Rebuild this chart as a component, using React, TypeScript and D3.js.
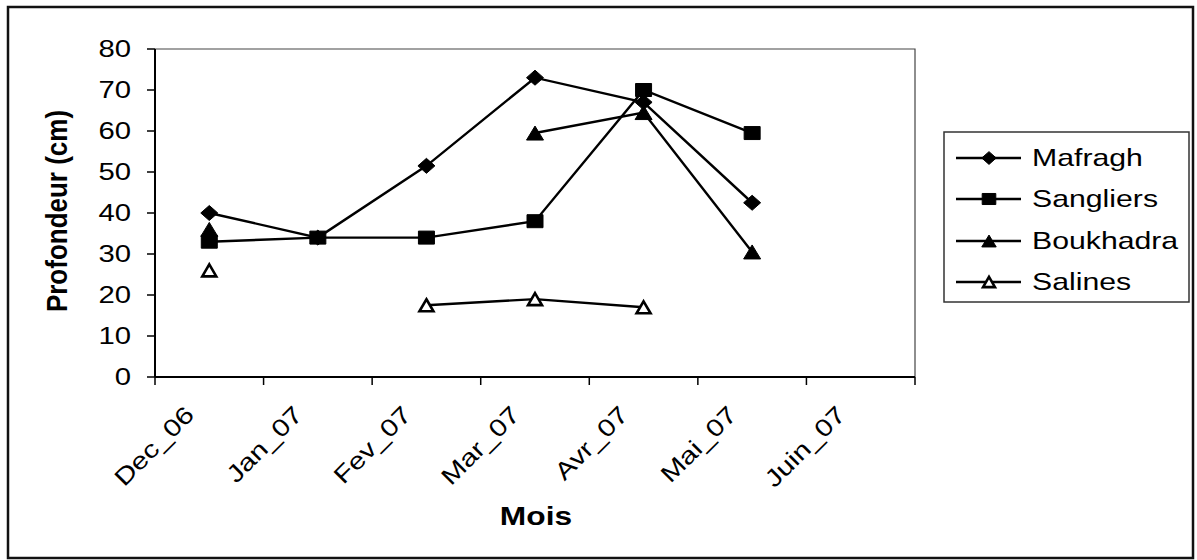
import React from "react";
import * as d3 from "d3";

const categories = ["Dec_06", "Jan_07", "Fev_07", "Mar_07", "Avr_07", "Mai_07", "Juin_07"];
const mafragh: (number | null)[] = [40, 34, 51.5, 73, 67, 42.5, null];
const sangliers: (number | null)[] = [33, 34, 34, 38, 70, 59.5, null];
const boukhadra: (number | null)[] = [36, null, null, 59.5, 64.5, 30.5, null];
const salines: (number | null)[] = [26, null, 17.5, 19, 17, null, null];
const seriesNames = ["Mafragh", "Sangliers", "Boukhadra", "Salines"];
const yTickValues = [0, 10, 20, 30, 40, 50, 60, 70, 80];

const W = 1197;
const H = 560;
const PL = 155, PR = 915, PT = 49, PB = 377;
const SX = 1.22;
const FONT = "'Liberation Sans', Arial, Helvetica, sans-serif";

type MType = "diamond" | "square" | "triangle" | "triangleOpen";

function markerPath(t: MType, cx: number, cy: number, s = 1): string {
  if (t === "diamond") {
    const hw = 8.5 * s, hh = 7.5 * s;
    return `M${cx},${cy - hh}L${cx + hw},${cy}L${cx},${cy + hh}L${cx - hw},${cy}Z`;
  }
  if (t === "square") {
    const hw = 8 * s, hh = 6.5 * s;
    return `M${cx - hw},${cy - hh}H${cx + hw}V${cy + hh}H${cx - hw}Z`;
  }
  const hw = (t === "triangle" ? 8.5 : 7) * s, hh = (t === "triangle" ? 7 : 6) * s;
  return `M${cx},${cy - hh}L${cx + hw},${cy + hh}L${cx - hw},${cy + hh}Z`;
}

function Marker({ t, cx, cy, s = 1 }: { t: MType; cx: number; cy: number; s?: number }) {
  const open = t === "triangleOpen";
  return (
    <path
      d={markerPath(t, cx, cy, s)}
      fill={open ? "#fff" : "#000"}
      stroke="#000"
      strokeWidth={open ? 2.6 : 1}
      strokeLinejoin="miter"
    />
  );
}

export default function App() {
  const x = d3.scaleBand<string>().domain(categories).range([PL, PR]).paddingInner(0).paddingOuter(0);
  const y = d3.scaleLinear().domain([0, 80]).range([PB, PT]);
  const cx = (i: number) => (x(categories[i]) as number) + x.bandwidth() / 2;

  const series: { name: string; values: (number | null)[]; m: MType }[] = [
    { name: seriesNames[0], values: mafragh, m: "diamond" },
    { name: seriesNames[1], values: sangliers, m: "square" },
    { name: seriesNames[2], values: boukhadra, m: "triangle" },
    { name: seriesNames[3], values: salines, m: "triangleOpen" },
  ];

  const line = d3
    .line<number | null>()
    .defined((d) => d !== null)
    .x((_, i) => cx(i))
    .y((d) => y(d as number));

  const tickXs = [...categories.map((c) => x(c) as number), PR];

  const legendX = 944, legendY = 132, legendW = 245, legendH = 170;
  const rowYs = [158, 199, 241, 282];

  return (
    <svg width={W} height={H} style={{ position: "absolute", left: 0, top: 0, background: "#fff" }} fontFamily={FONT}>
      <rect x={0} y={0} width={W} height={H} fill="#fff" />
      {/* outer border */}
      <rect x={8} y={7} width={1185} height={551} fill="none" stroke="#111" strokeWidth={2.5} />

      {/* plot area border */}
      <path d={`M${PL},${PT}H${PR}V${PB}`} fill="none" stroke="#444" strokeWidth={1.2} />

      {/* y axis */}
      <line x1={PL} x2={PL} y1={PT} y2={PB} stroke="#000" strokeWidth={2} />
      {yTickValues.map((v) => (
        <g key={v}>
          <line x1={PL - 8} x2={PL} y1={y(v)} y2={y(v)} stroke="#000" strokeWidth={1.5} />
          <text
            transform={`translate(${131},${y(v)}) scale(${SX},1)`}
            textAnchor="end"
            dy="0.35em"
            fontSize={24}
            fill="#000"
          >
            {v}
          </text>
        </g>
      ))}

      {/* x axis */}
      <line x1={PL} x2={PR} y1={PB} y2={PB} stroke="#000" strokeWidth={2} />
      {tickXs.map((tx, i) => (
        <line key={i} x1={tx} x2={tx} y1={PB} y2={PB + 8} stroke="#000" strokeWidth={1.5} />
      ))}
      {categories.map((c, i) => (
        <text
          key={c}
          transform={`translate(${cx(i) - 26},${404}) rotate(-45) scale(${SX},1)`}
          textAnchor="end"
          dy="0.72em"
          fontSize={24}
          fill="#000"
        >
          {c}
        </text>
      ))}

      {/* axis titles */}
      <text
        transform={`translate(${536},${525}) scale(${SX},1)`}
        textAnchor="middle"
        fontSize={26}
        fontWeight="bold"
        fill="#000"
      >
        Mois
      </text>
      <text
        transform={`translate(${67},${211}) scale(${1.1},1) rotate(-90)`}
        textAnchor="middle"
        fontSize={26}
        fontWeight="bold"
        fill="#000"
      >
        Profondeur (cm)
      </text>

      {/* series lines */}
      {series.map((s) => (
        <path key={s.name + "l"} d={line(s.values) || ""} fill="none" stroke="#000" strokeWidth={2.4} />
      ))}
      {/* markers */}
      {series.map((s) =>
        s.values.map((v, i) =>
          v === null ? null : <Marker key={s.name + i} t={s.m} cx={cx(i)} cy={y(v)} />
        )
      )}

      {/* legend */}
      <rect x={legendX} y={legendY} width={legendW} height={legendH} fill="#fff" stroke="#333" strokeWidth={1.5} />
      {series.map((s, i) => (
        <g key={s.name + "lg"}>
          <line x1={956} x2={1021} y1={rowYs[i]} y2={rowYs[i]} stroke="#000" strokeWidth={2.4} />
          <Marker t={s.m} cx={989} cy={rowYs[i]} s={0.85} />
          <text
            transform={`translate(${1032},${rowYs[i] + 8}) scale(${1.26},1)`}
            fontSize={24}
            fill="#000"
          >
            {s.name}
          </text>
        </g>
      ))}
    </svg>
  );
}
